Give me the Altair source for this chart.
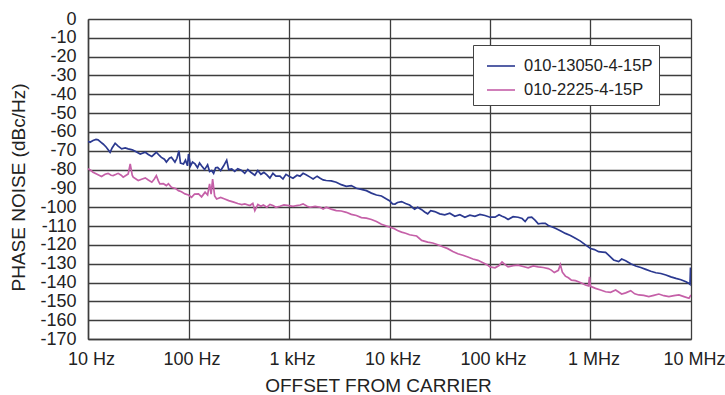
import altair as alt
import pandas as pd

SERIES = ["010-13050-4-15P", "010-2225-4-15P"]
COLORS = ["#2B3990", "#C560A8"]

# log10(offset frequency in Hz) and phase noise (dBc/Hz)
blue_log_f = [1.00, 1.02, 1.05, 1.08, 1.10, 1.13, 1.15, 1.18, 1.22, 1.24, 1.27, 1.30, 1.335, 1.37, 1.40,
              1.44, 1.47, 1.52, 1.57, 1.60, 1.635, 1.68, 1.71, 1.73, 1.76, 1.78, 1.81, 1.83, 1.865, 1.885,
              1.905, 1.92, 1.95, 1.97, 1.99, 2.00, 2.02, 2.04, 2.065, 2.09, 2.11, 2.13, 2.16, 2.19, 2.21,
              2.23, 2.25, 2.27, 2.29, 2.32, 2.35, 2.38, 2.40, 2.43, 2.46, 2.49, 2.53, 2.56, 2.59, 2.62,
              2.66, 2.69, 2.72, 2.75, 2.78, 2.81, 2.84, 2.87, 2.91, 2.94, 2.97, 3.00, 3.04, 3.08, 3.11,
              3.14, 3.17, 3.21, 3.24, 3.28, 3.31, 3.34, 3.37, 3.42, 3.47, 3.52, 3.57, 3.62, 3.67, 3.72,
              3.77, 3.82, 3.87, 3.92, 3.97, 4.00, 4.03, 4.055, 4.08, 4.12, 4.16, 4.20, 4.25, 4.28, 4.32,
              4.35, 4.38, 4.41, 4.45, 4.50, 4.55, 4.60, 4.65, 4.70, 4.75, 4.80, 4.85, 4.90, 4.95, 5.00,
              5.05, 5.09, 5.12, 5.15, 5.18, 5.23, 5.28, 5.32, 5.35, 5.38, 5.415, 5.45, 5.48, 5.52, 5.55,
              5.58, 5.62, 5.65, 5.70, 5.75, 5.80, 5.85, 5.90, 5.95, 6.00, 6.04, 6.08, 6.12, 6.15, 6.18,
              6.23, 6.28, 6.31, 6.35, 6.40, 6.45, 6.50, 6.55, 6.60, 6.65, 6.70, 6.75, 6.80, 6.85, 6.90,
              6.95, 6.98, 6.99, 6.995, 7.00]
blue_db = [-65, -65.5, -64.5, -64, -64.2, -65.5, -66.4, -68, -70.8, -68.5, -66, -67.5, -69, -68.5, -69,
           -69.5, -70.3, -71.7, -70.8, -72, -73, -70.8, -72.5, -73.5, -74.5, -76, -74, -73.5, -76, -74,
           -70, -76.5, -77, -75, -78, -71.7, -78, -76, -77, -79, -76.5, -78, -80, -77.5, -81,
           -80.5, -82, -79, -78.8, -80.5, -78, -75, -80, -79.6, -81, -79.5, -80.5, -82, -80, -81.4,
           -83, -80.5, -82.5, -81.5, -82.8, -84.5, -82, -83.5, -83.5, -85, -82.5, -83.5, -84.6, -83, -83.5,
           -82, -82.8, -84, -85, -83.5, -84.6, -85.5, -85.8, -86, -86.7, -88, -88.9, -88.5, -89.9, -90.5,
           -91.2, -92.5, -93.5, -94, -95.6, -96.5, -98.2, -98.3, -97.5, -97, -98, -98.8, -101, -100, -101.3,
           -102.5, -103.5, -101.8, -102.3, -103.5, -104, -103.2, -104.8, -104, -105.3, -104.2, -104.8, -103.8, -104.4, -105.3,
           -105.3, -104, -104.8, -105.5, -106.5, -105, -105.3, -106, -107.6, -105.5, -105.3, -107, -108.8, -108.5, -108.6,
           -109.7, -110.5, -111.2, -112.5, -113.9, -115, -116.5, -118, -120, -121.9, -122.5, -123.6, -123.8, -124, -125.4,
           -128, -128.9, -127.5, -128.4, -130, -131.2, -132, -133, -134, -134.8, -135.2, -136, -137, -137.8, -138.5,
           -139.6, -140.5, -141, -132, -140]

pink_log_f = [1.00, 1.03, 1.05, 1.09, 1.135, 1.17, 1.20, 1.23, 1.25, 1.28, 1.30, 1.33, 1.35, 1.38, 1.40,
              1.42, 1.44, 1.45, 1.50, 1.54, 1.57, 1.60, 1.635, 1.66, 1.68, 1.70, 1.715, 1.75, 1.78, 1.80,
              1.83, 1.87, 1.90, 1.93, 1.965, 2.00, 2.03, 2.06, 2.10, 2.13, 2.165, 2.19, 2.21, 2.225, 2.24,
              2.26, 2.28, 2.32, 2.36, 2.40, 2.45, 2.49, 2.53, 2.56, 2.61, 2.64, 2.66, 2.69, 2.72, 2.745,
              2.78, 2.81, 2.84, 2.87, 2.91, 2.95, 3.00, 3.04, 3.075, 3.11, 3.14, 3.18, 3.21, 3.26, 3.31,
              3.34, 3.37, 3.42, 3.47, 3.52, 3.57, 3.62, 3.67, 3.72, 3.77, 3.82, 3.87, 3.92, 3.97, 4.00,
              4.04, 4.08, 4.12, 4.16, 4.20, 4.24, 4.27, 4.32, 4.38, 4.43, 4.48, 4.53, 4.58, 4.63, 4.68,
              4.73, 4.78, 4.83, 4.88, 4.93, 4.97, 5.00, 5.05, 5.09, 5.12, 5.15, 5.18, 5.23, 5.28, 5.33,
              5.38, 5.43, 5.48, 5.53, 5.58, 5.61, 5.64, 5.68, 5.70, 5.72, 5.75, 5.78, 5.81, 5.85, 5.88,
              5.92, 5.95, 5.98, 5.99, 6.00, 6.05, 6.10, 6.15, 6.20, 6.25, 6.31, 6.35, 6.40, 6.44, 6.48,
              6.53, 6.58, 6.63, 6.68, 6.73, 6.78, 6.83, 6.88, 6.93, 6.98, 7.00]
pink_db = [-79.6, -80.5, -81.4, -82.5, -83.7, -82.5, -82, -83, -83.2, -82.5, -82, -83, -84, -83, -82.3,
           -77, -83, -84, -85.8, -85, -84.4, -85.5, -86.7, -85, -83.2, -86, -87.6, -87.5, -88.5, -87.5,
           -89.4, -90, -91.2, -91.8, -92.9, -93.5, -94.7, -93, -92.9, -94.5, -92, -93.5, -87.6, -93, -85,
           -94, -95.6, -94.8, -95.6, -96.5, -97.3, -98, -98.6, -98.2, -99.1, -98, -101.8, -98.5, -99.5, -98.8,
           -100, -98.5, -99.1, -100, -99.5, -98.8, -99.1, -99.5, -99.1, -98.8, -98.2, -99.5, -100, -99.5, -100,
           -101, -100, -101, -101.8, -102, -102.7, -103.8, -104.4, -105.5, -105.8, -106.5, -107.6, -109, -110, -110.5,
           -111.2, -112.4, -113.2, -113.8, -114.6, -115, -115.3, -117.6, -118.5, -119, -119.9, -121, -122, -123.5, -124.7,
           -125.5, -126.4, -127.5, -128.2, -129.5, -130.5, -131.7, -132.2, -131, -129.1, -130.5, -131.7, -131, -130.8, -131.5,
           -132.2, -131.2, -131.7, -132, -132.6, -133.4, -134.7, -133.5, -130.5, -134.5, -136.6, -137.5, -138.7, -139, -139.6,
           -140.5, -141.3, -141.8, -137, -142, -143.1, -144, -144.9, -145.2, -144, -146.1, -145.5, -144.3, -146, -146.6,
           -146.8, -147.5, -146.8, -146.1, -147, -147.5, -147, -146.6, -147.5, -148.4, -146.6]

x_ticks = [10, 100, 1000, 10000, 100000, 1000000, 10000000]
x_tick_labels = ["10 Hz", "100 Hz", "1 kHz", "10 kHz", "100 kHz", "1 MHz", "10 MHz"]
y_ticks = list(range(-170, 1, 10))

rows = []
for lf, db in zip(blue_log_f, blue_db):
    rows.append({"freq": 10 ** lf, "noise": db, "series": SERIES[0]})
for lf, db in zip(pink_log_f, pink_db):
    rows.append({"freq": 10 ** lf, "noise": db, "series": SERIES[1]})
df = pd.DataFrame(rows)

label_expr = " : ".join(
    f"datum.value == {v} ? '{t}'" for v, t in zip(x_ticks, x_tick_labels)
) + " : ''"

FONT = "Liberation Sans"

chart = alt.Chart(df).mark_line(strokeWidth=1.7, clip=True).encode(
    x=alt.X("freq:Q",
            scale=alt.Scale(type="log", domain=[10, 10000000], nice=False),
            axis=alt.Axis(values=x_ticks, labelExpr=label_expr, ticks=False,
                          labelPadding=11, labelFontSize=18, labelFont=FONT,
                          labelColor="#222", labelFlush=False, labelOffset=3,
                          title="OFFSET FROM CARRIER", titleFontSize=19, titleFont=FONT,
                          titleFontWeight="normal", titleColor="#222",
                          titleX=290, titleY=52, titleBaseline="alphabetic",
                          grid=True, gridColor="#3d3d3d", gridWidth=1.3,
                          domainColor="#3d3d3d", domainWidth=1.5)),
    y=alt.Y("noise:Q",
            scale=alt.Scale(domain=[-170, 0], nice=False, zero=False),
            axis=alt.Axis(values=y_ticks, labelExpr="'' + datum.value", ticks=False,
                          labelPadding=12, labelFontSize=18, labelFont=FONT,
                          labelColor="#222",
                          title="PHASE NOISE (dBc/Hz)", titleFontSize=19, titleFont=FONT,
                          titleFontWeight="normal", titleColor="#222",
                          titleX=-64, titleY=168, titleBaseline="alphabetic",
                          grid=True, gridColor="#3d3d3d", gridWidth=1.3,
                          domainColor="#3d3d3d", domainWidth=1.5)),
    color=alt.Color("series:N",
                    scale=alt.Scale(domain=SERIES, range=COLORS),
                    legend=alt.Legend(title=None, orient="none", legendX=385, legendY=26,
                                      symbolType="stroke", symbolSize=784, symbolStrokeWidth=1.6,
                                      symbolOffset=7,
                                      labelFontSize=16.5, labelFont=FONT, labelColor="#222",
                                      labelOffset=8, rowPadding=-6, padding=6,
                                      fillColor="white", strokeColor="#444")),
).properties(
    width=603,
    height=320,
    autosize=alt.AutoSizeParams(type="none"),
    padding={"left": 88, "top": 19, "right": 34, "bottom": 56},
).configure_view(
    stroke="#3d3d3d", strokeWidth=1.3
).configure(
    background="white"
)

chart.save("out.html", embed_options={"renderer": "svg", "actions": False})
